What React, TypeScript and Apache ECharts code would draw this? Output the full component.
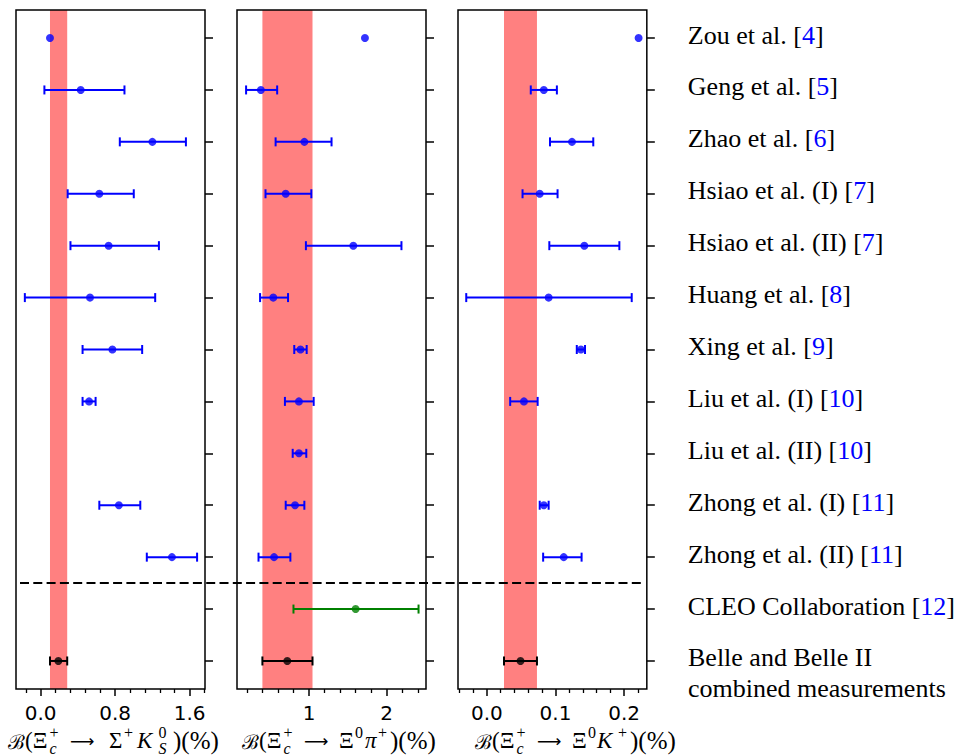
import React, { useEffect, useRef } from "react";
import * as echarts from "echarts";

// ---- categories (rows, top to bottom) ----
const studies = [
  "Zou et al.",
  "Geng et al.",
  "Zhao et al.",
  "Hsiao et al. (I)",
  "Hsiao et al. (II)",
  "Huang et al.",
  "Xing et al.",
  "Liu et al. (I)",
  "Liu et al. (II)",
  "Zhong et al. (I)",
  "Zhong et al. (II)",
  "CLEO Collaboration",
  "Belle and Belle II\ncombined measurements",
];
const refs = ["4", "5", "6", "7", "7", "8", "9", "10", "10", "11", "11", "12", ""];
const rowKinds = ["theory", "theory", "theory", "theory", "theory", "theory", "theory", "theory", "theory", "theory", "theory", "cleo", "belle"];
const rowTicks = [0, 1, 2, 3, 4, 5, 6, 7, 8, 9, 10, 11, 12];
const separatorAfter = 10.5;

// ---- B(Xi_c+ -> Sigma+ K0S) (%) ----
const sigmaKVal = [0.10, 0.43, 1.20, 0.63, 0.73, 0.53, 0.77, 0.52, null, 0.84, 1.41, null, 0.19];
const sigmaKLo = [null, 0.04, 0.85, 0.29, 0.32, -0.17, 0.45, 0.45, null, 0.63, 1.14, null, 0.10];
const sigmaKHi = [null, 0.90, 1.56, 1.00, 1.27, 1.23, 1.09, 0.59, null, 1.07, 1.68, null, 0.285];

// ---- B(Xi_c+ -> Xi0 pi+) (%) ----
const xiPiVal = [1.72, 0.38, 0.94, 0.70, 1.57, 0.54, 0.89, 0.87, 0.87, 0.82, 0.55, 1.60, 0.72];
const xiPiLo = [null, 0.19, 0.57, 0.44, 0.96, 0.37, 0.81, 0.69, 0.79, 0.70, 0.35, 0.80, 0.40];
const xiPiHi = [null, 0.59, 1.29, 1.03, 2.19, 0.73, 0.97, 1.06, 0.965, 0.94, 0.76, 2.41, 1.045];

// ---- B(Xi_c+ -> Xi0 K+) (%) ----
const xiKVal = [0.221, 0.083, 0.124, 0.077, 0.142, 0.090, 0.137, 0.054, null, 0.083, 0.112, null, 0.049];
const xiKLo = [null, 0.064, 0.092, 0.052, 0.091, -0.030, 0.131, 0.034, null, 0.077, 0.082, null, 0.025];
const xiKHi = [null, 0.102, 0.155, 0.103, 0.193, 0.211, 0.143, 0.074, null, 0.090, 0.138, null, 0.073];

// ---- x axes ----
const p1Range = [-0.265, 1.765];
const p1Major = [0, 0.8, 1.6];
const p1Labels = ["0.0", "0.8", "1.6"];
const p1Minor = [-0.16, 0.16, 0.32, 0.48, 0.64, 0.96, 1.12, 1.28, 1.44, 1.76];

const p2Range = [0.073, 2.506];
const p2Major = [1, 2];
const p2Labels = ["1", "2"];
const p2Minor = [0.2, 0.4, 0.6, 0.8, 1.2, 1.4, 1.6, 1.8, 2.2, 2.4];

const p3Range = [-0.042, 0.233];
const p3Major = [0, 0.1, 0.2];
const p3Labels = ["0.0", "0.1", "0.2"];
const p3Minor = [-0.04, -0.02, 0.02, 0.04, 0.06, 0.08, 0.12, 0.14, 0.16, 0.18, 0.22];

const yRange = [-0.54, 12.54];

// ---- styling / layout ----
const W = 958;
const H = 756;
const PANEL_LEFTS = [16, 237, 458];
const PANEL_W = 189;
const PANEL_TOP = 10;
const PANEL_H = 679;
const LABEL_MARGIN = 41;
const KIND_COLORS: Record<string, string> = { theory: "#0000ff", cleo: "#008000", belle: "#000000" };
const BAND_COLOR = "#ff8080";
const SERIF_NAME = "Liberation Serif";
const SERIF = "'Liberation Serif', 'DejaVu Serif', serif";
const SANS = "'DejaVu Sans', sans-serif";

// axis-title typesetting (x offsets are layout, relative to title start)
// kind: "m" main text, "sup" superscript, "it" italic main, "stack" sup over italic sub, "arrow", "cal", "close"
type Seg = { t: string; dx: number; kind: string; sub?: string };
const M = 23;
const S = 16;
const SUP = -10;
const prefix: Seg[] = [
  { t: "ℬ", dx: 0, kind: "cal" },
  { t: "(Ξ", dx: 17, kind: "m" },
  { t: "+", sub: "c", dx: 41.5, kind: "stack" },
  { t: "⟶", dx: 62, kind: "arrow" },
];
const title1: Seg[] = [
  ...prefix,
  { t: "Σ", dx: 101, kind: "m" },
  { t: "+", dx: 116, kind: "sup" },
  { t: "K", dx: 129, kind: "it" },
  { t: "0", sub: "S", dx: 150.5, kind: "stack" },
  { t: ")(%)", dx: 165, kind: "close" },
];
const title2: Seg[] = [
  ...prefix,
  { t: "Ξ", dx: 97, kind: "m" },
  { t: "0", dx: 113, kind: "sup" },
  { t: "π", dx: 123, kind: "it" },
  { t: "+", dx: 136, kind: "sup" },
  { t: ")(%)", dx: 148, kind: "close" },
];
const title3: Seg[] = [
  ...prefix,
  { t: "Ξ", dx: 97, kind: "m" },
  { t: "0", dx: 113, kind: "sup" },
  { t: "K", dx: 122, kind: "it" },
  { t: "+", dx: 143, kind: "sup" },
  { t: ")(%)", dx: 155, kind: "close" },
];
const TITLE_X = [8, 242, 475];
const TITLE_BASE = 748;

function segText(x: number, base: number, s: Seg): any {
  const common = { fill: "#000", align: "left", verticalAlign: "middle" };
  if (s.kind === "stack") {
    return {
      type: "text",
      x,
      y: base - 7.5,
      style: {
        ...common,
        text: `{a|${s.t}}\n{b|${s.sub}}`,
        rich: {
          a: { fontSize: S, fontFamily: SERIF_NAME, lineHeight: 16 },
          b: { fontSize: S, fontFamily: SERIF_NAME, fontStyle: "italic", lineHeight: 16 },
        },
      },
    };
  }
  if (s.kind === "arrow") {
    return {
      type: "text",
      x,
      y: base - 7,
      style: { ...common, text: s.t, fontSize: 17, fontFamily: "DejaVu Sans" },
    };
  }
  const size = s.kind === "sup" ? S : s.kind === "cal" ? 20 : s.kind === "close" ? 25 : M;
  const dy = s.kind === "sup" ? SUP : 0;
  return {
    type: "text",
    x,
    y: base + dy - 0.32 * size,
    style: {
      ...common,
      text: s.t,
      fontSize: size,
      fontFamily: SERIF_NAME,
      fontStyle: s.kind === "it" ? "italic" : "normal",
    },
  };
}

function buildTitle(x0: number, base: number, segs: Seg[], id: string) {
  return { type: "group", id, z: 20, children: segs.map((s) => segText(x0 + s.dx, base, s)) };
}

export default function App() {
  const ref = useRef<HTMLDivElement>(null);

  useEffect(() => {
    document.body.style.margin = "0";
    const chart = echarts.init(ref.current!, null, { renderer: "svg" });

    const panels = [
      { val: sigmaKVal, lo: sigmaKLo, hi: sigmaKHi, range: p1Range, major: p1Major, labels: p1Labels, minor: p1Minor },
      { val: xiPiVal, lo: xiPiLo, hi: xiPiHi, range: p2Range, major: p2Major, labels: p2Labels, minor: p2Minor },
      { val: xiKVal, lo: xiKLo, hi: xiKHi, range: p3Range, major: p3Major, labels: p3Labels, minor: p3Minor },
    ];

    const grid = PANEL_LEFTS.map((l) => ({
      left: l,
      top: PANEL_TOP,
      width: PANEL_W,
      height: PANEL_H,
      show: true,
      borderColor: "#000",
      borderWidth: 1.5,
      backgroundColor: "transparent",
      z: 10,
    }));

    const xAxis: any[] = [];
    const yAxis: any[] = [];
    const series: any[] = [];

    panels.forEach((p, i) => {
      xAxis.push({
        gridIndex: i,
        type: "value",
        min: p.range[0],
        max: p.range[1],
        position: "bottom",
        axisLine: { show: false, onZero: false },
        splitLine: { show: false },
        axisTick: { show: true, customValues: p.major, length: 7, lineStyle: { color: "#000", width: 1.5 } },
        axisLabel: {
          show: true,
          customValues: p.major,
          formatter: (v: number) => {
            const k = p.major.findIndex((m) => Math.abs(m - v) < 1e-9);
            return k >= 0 ? p.labels[k] : "";
          },
          fontFamily: SANS,
          fontSize: 20,
          color: "#000",
          margin: 14,
        },
      });
      xAxis.push({
        gridIndex: i,
        type: "value",
        min: p.range[0],
        max: p.range[1],
        position: "bottom",
        axisLine: { show: false, onZero: false },
        splitLine: { show: false },
        axisTick: { show: true, customValues: p.minor, length: 4, lineStyle: { color: "#000", width: 1.3 } },
        axisLabel: { show: false, customValues: p.minor },
      });
      yAxis.push({
        gridIndex: i,
        type: "value",
        min: yRange[0],
        max: yRange[1],
        inverse: true,
        position: "right",
        axisLine: { show: false, onZero: false },
        splitLine: { show: false },
        axisTick: { show: true, customValues: rowTicks, length: 8, lineStyle: { color: "#000", width: 1.5 } },
        axisLabel:
          i === 2
            ? {
                show: true,
                customValues: rowTicks.filter((r) => refs[r] !== ""),
                margin: LABEL_MARGIN,
                align: "left",
                fontFamily: SERIF,
                fontSize: 26,
                lineHeight: 31,
                color: "#000",
                padding: [0, 0, 6, 0],
                formatter: (v: number) => {
                  const k = Math.round(v);
                  return `${studies[k]} [{r|${refs[k]}}]`;
                },
                rich: {
                  r: { color: "#0000ff", fontFamily: SERIF, fontSize: 26, lineHeight: 31 },
                },
              }
            : { show: false, customValues: rowTicks },
      });

      const last = p.val.length - 1;
      // Shaded band = combined Belle measurement interval
      series.push({
        type: "line",
        xAxisIndex: 2 * i,
        yAxisIndex: i,
        data: [],
        z: 1,
        silent: true,
        markArea: {
          silent: true,
          itemStyle: { color: BAND_COLOR, opacity: 1 },
          data: [[{ xAxis: p.lo[last] as number }, { xAxis: p.hi[last] as number }]],
        },
      });

      const errData: any[] = [];
      const ptData: any[] = [];
      p.val.forEach((v, r) => {
        if (v == null) return;
        const color = KIND_COLORS[rowKinds[r]];
        ptData.push({ value: [v, r], itemStyle: { color } });
        if (p.lo[r] != null && p.hi[r] != null) {
          errData.push([v, r, p.lo[r], p.hi[r]]);
        }
      });

      series.push({
        type: "custom",
        xAxisIndex: 2 * i,
        yAxisIndex: i,
        z: 3,
        silent: true,
        encode: { x: [0, 2, 3], y: 1 },
        data: errData,
        renderItem: (params: any, api: any) => {
          const r = api.value(1);
          const a = api.coord([api.value(2), r]);
          const b = api.coord([api.value(3), r]);
          const color = KIND_COLORS[rowKinds[r]];
          const st = { stroke: color, lineWidth: 2 };
          const cap = 4.5;
          return {
            type: "group",
            children: [
              { type: "line", shape: { x1: a[0], y1: a[1], x2: b[0], y2: b[1] }, style: st },
              { type: "line", shape: { x1: a[0], y1: a[1] - cap, x2: a[0], y2: a[1] + cap }, style: st },
              { type: "line", shape: { x1: b[0], y1: b[1] - cap, x2: b[0], y2: b[1] + cap }, style: st },
            ],
          };
        },
      });

      series.push({
        type: "scatter",
        xAxisIndex: 2 * i,
        yAxisIndex: i,
        z: 4,
        silent: true,
        symbol: "circle",
        symbolSize: 8,
        data: ptData,
      });
    });

    const titles = [
      buildTitle(TITLE_X[0], TITLE_BASE, title1, "t1"),
      buildTitle(TITLE_X[1], TITLE_BASE, title2, "t2"),
      buildTitle(TITLE_X[2], TITLE_BASE, title3, "t3"),
    ];

    chart.setOption({
      animation: false,
      backgroundColor: "#ffffff",
      grid,
      xAxis,
      yAxis,
      series,
      graphic: titles,
    });

    const ySep = chart.convertToPixel({ gridIndex: 0 } as any, [0, separatorAfter])[1];
    const belleRow = rowTicks[rowTicks.length - 1];
    const yBelle = chart.convertToPixel({ gridIndex: 2 } as any, [0, belleRow])[1];
    chart.setOption({
      graphic: [
        ...titles,
        {
          type: "line",
          id: "sep",
          z: 30,
          shape: { x1: PANEL_LEFTS[0] + 4, y1: ySep, x2: PANEL_LEFTS[2] + PANEL_W - 2, y2: ySep },
          style: { stroke: "#000", lineWidth: 2, lineDash: [9, 4.3] },
        },
        {
          type: "text",
          id: "belle",
          z: 30,
          x: PANEL_LEFTS[2] + PANEL_W + LABEL_MARGIN,
          y: yBelle + 12,
          style: {
            text: studies[belleRow],
            fontSize: 26,
            fontFamily: SERIF_NAME,
            lineHeight: 31,
            fill: "#000",
            align: "left",
            verticalAlign: "middle",
          },
        },
      ],
    });

    return () => chart.dispose();
  }, []);

  return <div ref={ref} style={{ width: W, height: H }} />;
}
